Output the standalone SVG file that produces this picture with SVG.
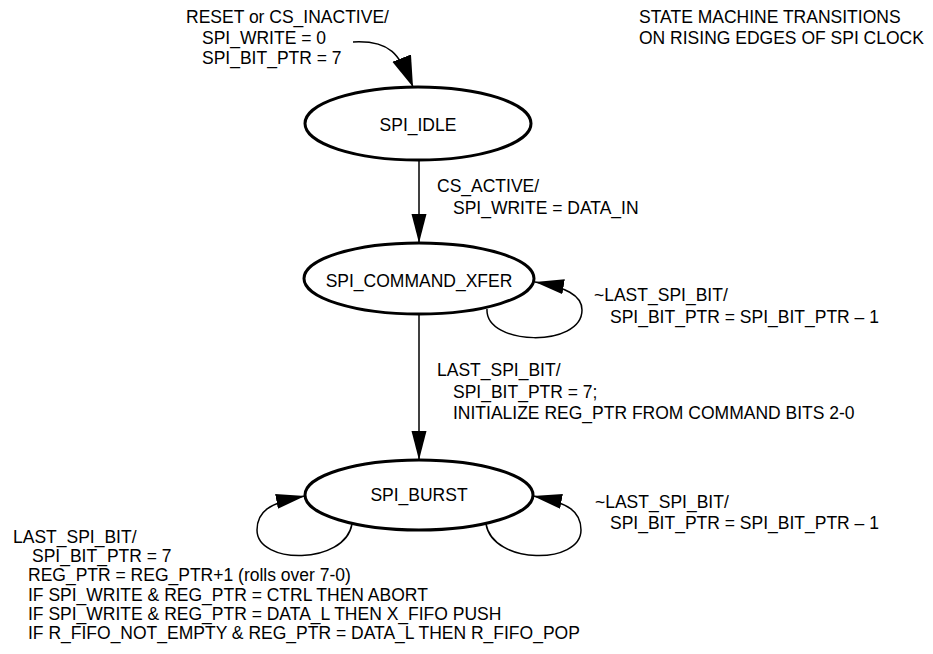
<svg xmlns="http://www.w3.org/2000/svg" width="933" height="654" viewBox="0 0 933 654">
<defs>
<style>
text{font-family:"Liberation Sans",Arial,sans-serif;font-size:17.5px;fill:#000}
.st{fill:#fff;stroke:#000;stroke-width:3}
.c{fill:none;stroke:#000;stroke-width:1.5}
.m{text-anchor:middle}
</style>
<marker id="ah" markerUnits="userSpaceOnUse" markerWidth="30" markerHeight="16" refX="29" refY="7.5" orient="auto">
<path d="M0,0 L29,7.5 L0,15 z" fill="#000"/>
</marker>
<marker id="ahb" markerUnits="userSpaceOnUse" markerWidth="32" markerHeight="21" refX="31" refY="10" orient="auto">
<path d="M0,0 L31,10 L0,20 z" fill="#000"/>
</marker>
</defs>
<rect width="933" height="654" fill="#fff"/>
<g id="connectors">
<path class="c" d="M353,42 C390,40 400,54 413,87" marker-end="url(#ahb)"/>
<path class="c" d="M419,160 L419,243" marker-end="url(#ah)"/>
<path class="c" d="M419,314 L419,460" marker-end="url(#ah)"/>
<path class="c" d="M487,309 C485,346 582,348 582,310 C582,295 565,287 535,282" marker-end="url(#ah)"/>
<path class="c" d="M352,524 C345,565 257,565 257,530 C257,512 268,503 305,496" marker-end="url(#ah)"/>
<path class="c" d="M486,524 C493,565 581,565 581,530 C581,512 570,503 533,496" marker-end="url(#ah)"/>
</g>
<g id="labels">
<text x="186" y="23">RESET or CS_INACTIVE/</text>
<text x="202" y="44">SPI_WRITE = 0</text>
<text x="202" y="64">SPI_BIT_PTR = 7</text>
<text x="639" y="23">STATE MACHINE TRANSITIONS</text>
<text x="639" y="44">ON RISING EDGES OF SPI CLOCK</text>
<text x="437" y="192">CS_ACTIVE/</text>
<text x="453" y="214">SPI_WRITE = DATA_IN</text>
<text x="594" y="301">~LAST_SPI_BIT/</text>
<text x="610" y="322.5">SPI_BIT_PTR = SPI_BIT_PTR – 1</text>
<text x="437" y="376">LAST_SPI_BIT/</text>
<text x="453" y="397.5">SPI_BIT_PTR = 7;</text>
<text x="453" y="419">INITIALIZE REG_PTR FROM COMMAND BITS 2-0</text>
<text x="595" y="507.5">~LAST_SPI_BIT/</text>
<text x="610" y="529">SPI_BIT_PTR = SPI_BIT_PTR – 1</text>
<text x="13" y="542.5">LAST_SPI_BIT/</text>
<text x="32" y="562">SPI_BIT_PTR = 7</text>
<text x="28" y="581">REG_PTR = REG_PTR+1 (rolls over 7-0)</text>
<text x="28" y="600.5">IF SPI_WRITE &amp; REG_PTR = CTRL THEN ABORT</text>
<text x="28" y="620">IF SPI_WRITE &amp; REG_PTR = DATA_L THEN X_FIFO PUSH</text>
<text x="28" y="639">IF R_FIFO_NOT_EMPTY &amp; REG_PTR = DATA_L THEN R_FIFO_POP</text>
</g>
<g id="spi_idle">
<ellipse class="st" cx="418" cy="123.5" rx="113" ry="36.5"/>
<text class="m" x="418" y="131">SPI_IDLE</text>
</g>
<g id="spi_command_xfer">
<ellipse class="st" cx="419" cy="278.5" rx="115" ry="35.5"/>
<text class="m" x="419" y="287">SPI_COMMAND_XFER</text>
</g>
<g id="spi_burst">
<ellipse class="st" cx="419" cy="495" rx="114" ry="35"/>
<text class="m" x="419" y="501">SPI_BURST</text>
</g>
</svg>
